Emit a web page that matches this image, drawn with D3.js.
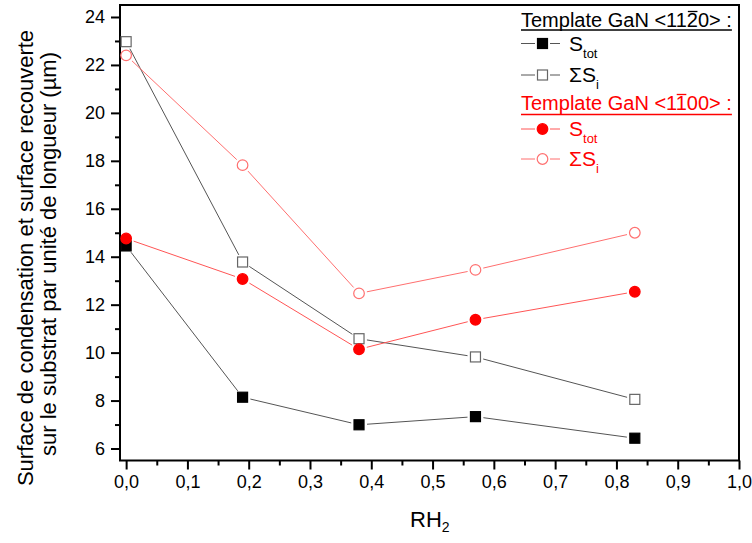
<!DOCTYPE html>
<html><head><meta charset="utf-8">
<script src="https://cdn.jsdelivr.net/npm/d3@7"></script>
<style>
body{margin:0;background:#fff;}
svg text{font-family:"Liberation Sans",Arial,sans-serif;}
</style></head>
<body><svg id="c" width="752" height="543"></svg>
<script>
const rh = [0.0, 0.19, 0.38, 0.57, 0.83];
const stot1120 = [14.45, 8.14, 6.99, 7.33, 6.43];
const sumSi1120 = [22.97, 13.78, 10.58, 9.82, 8.05];
const stot1100 = [14.76, 13.07, 10.14, 11.37, 12.54];
const sumSi1100 = [22.40, 17.82, 12.47, 13.45, 15.00];
const xTicks = [0,0.1,0.2,0.3,0.4,0.5,0.6,0.7,0.8,0.9,1.0];
const yTicks = [6,8,10,12,14,16,18,20,22,24];

const svg = d3.select("#c");
const L=120, R=739, T=5, B=460.5;
const x = d3.scaleLinear().domain([-0.01,1.0]).range([L,R]);
const y = d3.scaleLinear().domain([5.5,24.5]).range([B,T]);

// frame
svg.append("rect").attr("x",L).attr("y",T).attr("width",R-L).attr("height",B-T)
  .attr("fill","none").attr("stroke","#000").attr("stroke-width",2);

const fmt = d=>d3.format(".1f")(d).replace(".",",");
const xAxis = d3.axisBottom(x).tickValues(xTicks).tickFormat(fmt).tickSize(9).tickPadding(6);
const gx = svg.append("g").attr("transform",`translate(0,${B})`).call(xAxis);
gx.select(".domain").remove();
gx.selectAll("line").attr("stroke-width",2);
gx.selectAll("text").attr("font-size",18).attr("fill","#000");
const gxm = svg.append("g").attr("transform",`translate(0,${B})`)
  .call(d3.axisBottom(x).tickValues(d3.range(0.05,1.0,0.1)).tickSize(5).tickFormat(""));
gxm.select(".domain").remove(); gxm.selectAll("line").attr("stroke-width",2);

const yAxis = d3.axisLeft(y).tickValues(yTicks).tickSize(9).tickPadding(6);
const gy = svg.append("g").attr("transform",`translate(${L},0)`).call(yAxis);
gy.select(".domain").remove();
gy.selectAll("line").attr("stroke-width",2);
gy.selectAll("text").attr("font-size",18).attr("fill","#000");
const gym = svg.append("g").attr("transform",`translate(${L},0)`)
  .call(d3.axisLeft(y).tickValues(d3.range(7,25,2)).tickSize(5).tickFormat(""));
gym.select(".domain").remove(); gym.selectAll("line").attr("stroke-width",2);

// axis titles
const xt = svg.append("text").attr("x",410).attr("y",527).attr("font-size",22);
xt.append("tspan").text("RH");
xt.append("tspan").attr("font-size",14).attr("dy",5).text("2");

const yt = svg.append("text").attr("transform","translate(0,258) rotate(-90)")
  .attr("text-anchor","middle").attr("font-size",22);
yt.append("tspan").attr("x",0).attr("y",32.5).text("Surface de condensation et surface recouverte");
yt.append("tspan").attr("x",4).attr("y",55.5).text("sur le substrat par unité de longueur (µm)");

// series
const series = [
  {v:stot1120, line:"#555", shape:"square", fill:"#000", stroke:"#000"},
  {v:sumSi1120, line:"#555", shape:"square", fill:"#fff", stroke:"#666"},
  {v:stot1100, line:"#ff5555", shape:"circle", fill:"#ff0000", stroke:"#ff0000"},
  {v:sumSi1100, line:"#ff6f6f", shape:"circle", fill:"#fff", stroke:"#ff7070"}
];
const gap = 8;
function drawMarker(g, s, cx, cy){
  if(s.shape==="square"){
    g.append("rect").attr("x",cx-5).attr("y",cy-5).attr("width",10).attr("height",10)
      .attr("fill",s.fill).attr("stroke",s.stroke).attr("stroke-width",1.2);
  } else {
    g.append("circle").attr("cx",cx).attr("cy",cy).attr("r",5.3)
      .attr("fill",s.fill).attr("stroke",s.stroke).attr("stroke-width",1.2);
  }
}
series.forEach(s=>{
  const g = svg.append("g");
  const pts = rh.map((r,i)=>[x(r),y(s.v[i])]);
  for(let i=0;i<pts.length-1;i++){
    const [x1,y1]=pts[i],[x2,y2]=pts[i+1];
    const d=Math.hypot(x2-x1,y2-y1), ux=(x2-x1)/d, uy=(y2-y1)/d;
    g.append("line").attr("x1",x1+ux*gap).attr("y1",y1+uy*gap)
      .attr("x2",x2-ux*gap).attr("y2",y2-uy*gap)
      .attr("stroke",s.line).attr("stroke-width",1);
  }
  pts.forEach(p=>drawMarker(g,s,p[0],p[1]));
});

// legend
const lx = 521;
function legendTitle(yb, color, a, bar, b, ul){
  const t = svg.append("text").attr("x",lx).attr("y",yb).attr("font-size",20).attr("fill",color);
  t.append("tspan").text(a);
  t.append("tspan").text(bar);
  t.append("tspan").text(b);
  const node = t.node();
  const idx = a.length;
  const p0 = node.getStartPositionOfChar(idx), p1 = node.getEndPositionOfChar(idx);
  svg.append("line").attr("x1",p0.x+1).attr("x2",p1.x-0.5).attr("y1",yb-15.5).attr("y2",yb-15.5)
    .attr("stroke",color).attr("stroke-width",1.3);
  const w = node.getComputedTextLength();
  svg.append("line").attr("x1",lx).attr("x2",lx+w).attr("y1",yb+ul).attr("y2",yb+ul)
    .attr("stroke",color).attr("stroke-width",1.5);
}
function legendItem(yc, s, color, main, sub){
  const g = svg.append("g");
  g.append("line").attr("x1",lx).attr("x2",lx+14).attr("y1",yc).attr("y2",yc).attr("stroke",s.line);
  g.append("line").attr("x1",lx+29).attr("x2",lx+39).attr("y1",yc).attr("y2",yc).attr("stroke",s.line);
  drawMarker(g,s,lx+21.5,yc);
  const t = g.append("text").attr("x",lx+48).attr("y",yc+7).attr("font-size",21).attr("fill",color);
  t.append("tspan").text(main);
  t.append("tspan").attr("font-size",13).attr("dy",7).text(sub);
}
legendTitle(27,"#000","Template GaN <11","2","0> :", 3);
legendItem(43.5, series[0], "#000", "S", "tot");
legendItem(75, series[1], "#000", "ΣS", "i");
legendTitle(110,"#ff0000","Template GaN <1","1","00> :", 4.5);
legendItem(129, series[2], "#ff0000", "S", "tot");
legendItem(159, series[3], "#ff0000", "ΣS", "i");
</script></body></html>
